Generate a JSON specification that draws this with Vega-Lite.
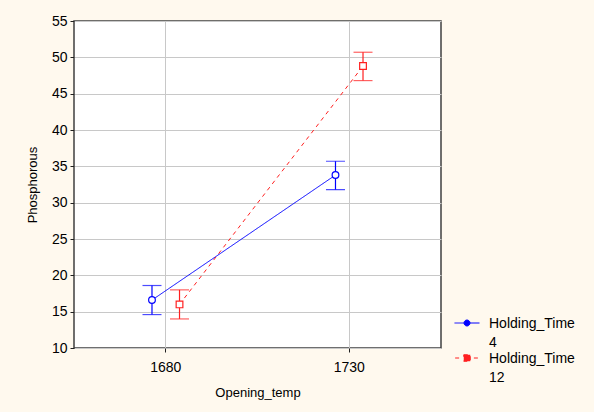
{
  "$schema": "https://vega.github.io/schema/vega-lite/v6.json",
  "width": 367,
  "height": 327,
  "autosize": {"type": "none"},
  "padding": {"left": 74, "top": 21, "right": 153, "bottom": 64},
  "background": "#FFF9EE",
  "config": {
    "view": {"fill": "white", "stroke": "#404040", "strokeWidth": 1.5},
    "font": "Liberation Sans",
    "style": {"guide-label": {"lineHeight": 19}},
    "axis": {
      "domain": false,
      "gridColor": "#C8C8C8",
      "gridWidth": 1,
      "tickColor": "#202020",
      "labelColor": "#000000",
      "titleColor": "#000000",
      "labelFont": "Liberation Sans",
      "titleFont": "Liberation Sans",
      "labelFontSize": 14,
      "titleFontSize": 13,
      "titleFontWeight": "normal"
    },
    "axisY": {
      "values": [10, 15, 20, 25, 30, 35, 40, 45, 50, 55],
      "tickSize": 4,
      "labelPadding": 3,
      "titlePadding": 12
    }
  },
  "data": {
    "values": [
      {"Opening_temp": "1680", "Holding_Time": "4", "mean": 16.6, "lower": 14.6, "upper": 18.6},
      {"Opening_temp": "1730", "Holding_Time": "4", "mean": 33.8, "lower": 31.8, "upper": 35.7},
      {"Opening_temp": "1680", "Holding_Time": "12", "mean": 16.0, "lower": 14.0, "upper": 18.0},
      {"Opening_temp": "1730", "Holding_Time": "12", "mean": 48.8, "lower": 46.8, "upper": 50.7}
    ]
  },
  "encoding": {
    "x": {
      "field": "Opening_temp",
      "type": "ordinal",
      "scale": {"type": "band", "paddingInner": 0.7, "paddingOuter": 0.35},
      "axis": {
        "title": "Opening_temp",
        "labelAngle": 0,
        "grid": true,
        "bandPosition": 0.5,
        "tickSize": 4,
        "labelPadding": 8,
        "titlePadding": 12
      }
    },
    "xOffset": {
      "field": "Holding_Time",
      "type": "nominal",
      "scale": {"domain": ["4", "12"], "paddingInner": 0, "paddingOuter": 0}
    },
    "color": {
      "field": "Holding_Time",
      "type": "nominal",
      "scale": {"domain": ["4", "12"], "range": ["#0000FF", "#FF2020"]},
      "legend": null
    }
  },
  "layer": [
    {
      "mark": {"type": "point", "filled": false, "fill": "transparent", "opacity": 0, "strokeWidth": 1},
      "encoding": {
        "y": {"field": "mean", "type": "quantitative", "scale": {"domain": [10, 55], "nice": false, "zero": false}, "axis": {"title": "Phosphorous", "grid": true}},
        "color": {
          "field": "Holding_Time",
          "type": "nominal",
          "scale": {"domain": ["4", "12"], "range": ["#0000FF", "#FF2020"]},
          "legend": {
            "orient": "none",
            "legendX": 380,
            "legendY": 294,
            "title": null,
            "symbolSize": 625,
            "symbolOpacity": 1,
            "symbolStrokeWidth": 1,
            "symbolFillColor": "transparent",
            "labelFontSize": 14,
            "labelFont": "Liberation Sans",
            "labelColor": "#000000",
            "labelExpr": "['Holding_Time', datum.label]",
            "labelBaseline": "alphabetic",
            "rowPadding": -6,
            "labelOffset": 9,
            "padding": 0
          }
        },
        "shape": {
          "field": "Holding_Time",
          "type": "nominal",
          "scale": {
            "domain": ["4", "12"],
            "range": [
              "M-1,-0.4H-0.24M0.24,-0.4H1M-0.24,-0.4A0.24,0.24 0 1,0 0.24,-0.4A0.24,0.24 0 1,0 -0.24,-0.4",
              "M-0.95,-0.4H-0.55M-0.26,-0.66H0.26V-0.14H-0.26ZM0.55,-0.4H0.95"
            ]
          },
          "legend": {
            "orient": "none",
            "legendX": 380,
            "legendY": 294,
            "title": null,
            "symbolSize": 625,
            "symbolOpacity": 1,
            "symbolStrokeWidth": 1,
            "symbolFillColor": "transparent",
            "labelFontSize": 14,
            "labelFont": "Liberation Sans",
            "labelColor": "#000000",
            "labelExpr": "['Holding_Time', datum.label]",
            "labelBaseline": "alphabetic",
            "rowPadding": -6,
            "labelOffset": 9,
            "padding": 0
          }
        }
      }
    },
    {
      "mark": {"type": "line", "strokeWidth": 1},
      "encoding": {
        "y": {
          "field": "mean",
          "type": "quantitative",
          "scale": {"domain": [10, 55], "nice": false, "zero": false},
          "axis": {"title": "Phosphorous", "grid": true}
        },
        "strokeDash": {
          "field": "Holding_Time",
          "type": "nominal",
          "scale": {"domain": ["4", "12"], "range": [[1, 0], [4, 4]]},
          "legend": null
        }
      }
    },
    {
      "mark": {"type": "rule", "strokeWidth": 1.2},
      "encoding": {
        "y": {"field": "lower", "type": "quantitative", "scale": {"domain": [10, 55], "nice": false, "zero": false}, "axis": {"title": "Phosphorous", "grid": true}},
        "y2": {"field": "upper"}
      }
    },
    {
      "mark": {"type": "tick", "size": 19, "thickness": 1.2},
      "encoding": {
        "y": {"field": "lower", "type": "quantitative", "scale": {"domain": [10, 55], "nice": false, "zero": false}, "axis": {"title": "Phosphorous", "grid": true}}
      }
    },
    {
      "mark": {"type": "tick", "size": 19, "thickness": 1.2},
      "encoding": {
        "y": {"field": "upper", "type": "quantitative", "scale": {"domain": [10, 55], "nice": false, "zero": false}, "axis": {"title": "Phosphorous", "grid": true}}
      }
    },
    {
      "transform": [{"filter": "datum.Holding_Time === '4'"}],
      "mark": {"type": "point", "shape": "circle", "filled": false, "fill": "white", "opacity": 1, "strokeWidth": 1.2, "size": 45},
      "encoding": {
        "y": {"field": "mean", "type": "quantitative", "scale": {"domain": [10, 55], "nice": false, "zero": false}, "axis": {"title": "Phosphorous", "grid": true}}
      }
    },
    {
      "transform": [{"filter": "datum.Holding_Time === '12'"}],
      "mark": {"type": "point", "shape": "square", "filled": false, "fill": "white", "opacity": 1, "strokeWidth": 1.2, "size": 45},
      "encoding": {
        "y": {"field": "mean", "type": "quantitative", "scale": {"domain": [10, 55], "nice": false, "zero": false}, "axis": {"title": "Phosphorous", "grid": true}}
      }
    }
  ]
}
